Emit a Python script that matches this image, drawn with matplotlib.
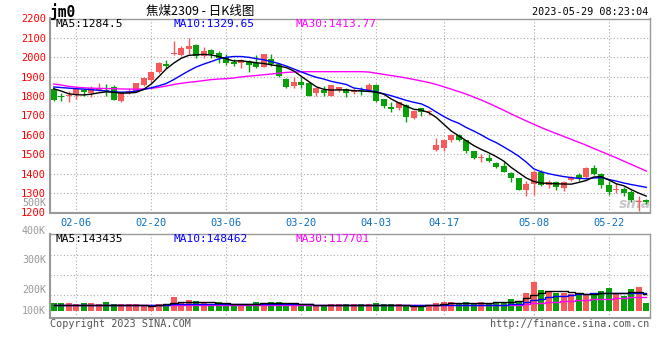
import matplotlib
matplotlib.use("Agg")
import matplotlib.pyplot as plt

plt.rcParams['font.family'] = ['DejaVu Sans Mono', 'Noto Sans CJK SC']

# 日K数据 (02-01 ~ 05-29 夜盘)
opens = [1836, 1801, 1800, 1807, 1834, 1814, 1831, 1834, 1848, 1776,
         1814, 1823, 1856, 1882, 1926, 1967, 2016, 2011, 2044, 2062,
         2006, 2037, 2020, 2003, 1977, 1970, 1981, 1972, 1952, 1992,
         1964, 1890, 1850, 1875, 1867, 1814, 1833, 1802, 1833, 1839,
         1823, 1831, 1831, 1858, 1785, 1746, 1737, 1756, 1686, 1737,
         1717, 1521, 1535, 1576, 1598, 1572, 1516, 1481, 1479, 1457,
         1440, 1406, 1377, 1317, 1348, 1411, 1343, 1355, 1326, 1365,
         1394, 1382, 1428, 1399, 1343, 1317, 1321, 1304, 1256, 1262]
highs = [1844, 1817, 1828, 1840, 1838, 1853, 1865, 1862, 1855, 1820,
         1841, 1868, 1899, 1930, 1975, 1984, 2083, 2060, 2100, 2071,
         2052, 2045, 2032, 2015, 1989, 1989, 1985, 2010, 2017, 2015,
         1967, 1893, 1896, 1896, 1870, 1842, 1853, 1858, 1848, 1842,
         1841, 1845, 1865, 1861, 1787, 1768, 1770, 1760, 1727, 1740,
         1727, 1586, 1575, 1606, 1606, 1575, 1518, 1504, 1499, 1462,
         1462, 1408, 1380, 1360, 1419, 1419, 1368, 1360, 1360, 1389,
         1402, 1433, 1445, 1402, 1360, 1351, 1334, 1317, 1285, 1270]
lows = [1773, 1777, 1768, 1785, 1799, 1794, 1827, 1802, 1779, 1771,
        1811, 1820, 1850, 1865, 1921, 1947, 2010, 2006, 2018, 1994,
        1998, 1998, 1972, 1958, 1957, 1947, 1925, 1947, 1950, 1955,
        1898, 1841, 1841, 1840, 1800, 1802, 1802, 1800, 1820, 1797,
        1810, 1806, 1829, 1768, 1737, 1717, 1726, 1669, 1683, 1695,
        1700, 1519, 1518, 1564, 1569, 1508, 1474, 1462, 1462, 1431,
        1407, 1355, 1314, 1283, 1292, 1338, 1326, 1317, 1309, 1360,
        1360, 1377, 1394, 1326, 1292, 1300, 1287, 1253, 1208, 1245]
closes = [1782, 1795, 1806, 1836, 1822, 1841, 1839, 1828, 1782, 1816,
          1827, 1865, 1895, 1926, 1972, 1953, 2019, 2049, 2060, 2006,
          2032, 2015, 1998, 1972, 1964, 1984, 1962, 1952, 2015, 1964,
          1904, 1848, 1873, 1858, 1802, 1840, 1814, 1856, 1845, 1816,
          1826, 1824, 1858, 1773, 1751, 1731, 1768, 1691, 1725, 1717,
          1725, 1547, 1572, 1598, 1576, 1518, 1482, 1484, 1465, 1436,
          1411, 1380, 1317, 1348, 1411, 1343, 1355, 1331, 1355, 1385,
          1377, 1428, 1399, 1343, 1304, 1320, 1300, 1266, 1259, 1252]

ma5 = [1838, 1826, 1812, 1807, 1806, 1810, 1817, 1822, 1820, 1815,
       1816, 1819, 1835, 1862, 1900, 1940, 1970, 1995, 2010, 2013,
       2015, 2012, 2004, 1992, 1981, 1982, 1977, 1972, 1968, 1961,
       1955, 1947, 1930, 1902, 1875, 1848, 1835, 1831, 1832, 1832,
       1828, 1826, 1824, 1820, 1810, 1785, 1765, 1748, 1732, 1728,
       1715, 1690, 1655, 1620, 1595, 1570, 1545, 1525, 1508, 1488,
       1465, 1432, 1405, 1378, 1360, 1352, 1350, 1348, 1347, 1346,
       1355, 1365, 1383, 1385, 1368, 1348, 1338, 1318, 1300, 1284.5]
ma10 = [1847, 1844, 1841, 1838, 1836, 1833, 1830, 1826, 1822, 1820,
        1821, 1826, 1834, 1843, 1853, 1865, 1885, 1908, 1930, 1950,
        1965, 1978, 1992, 2000, 2004, 2004, 2000, 1993, 1987, 1978,
        1968, 1955, 1940, 1925, 1910, 1897, 1888, 1876, 1868, 1860,
        1842, 1836, 1829, 1822, 1812, 1802, 1790, 1778, 1768, 1760,
        1742, 1718, 1695, 1675, 1660, 1638, 1620, 1600, 1578, 1560,
        1538, 1515, 1490, 1460, 1425, 1410, 1400, 1392, 1385, 1380,
        1376, 1374, 1378, 1380, 1370, 1362, 1352, 1344, 1337, 1329.65]
ma30 = [1862, 1857, 1850, 1846, 1843, 1841, 1840, 1839, 1838, 1837,
        1836, 1836, 1837, 1840, 1845, 1852, 1860, 1866, 1871, 1875,
        1880, 1885, 1888, 1890, 1893, 1899, 1903, 1906, 1910, 1914,
        1918, 1922, 1924, 1925, 1926, 1926, 1926, 1926, 1926, 1926,
        1926, 1926, 1924, 1918, 1912, 1906, 1900, 1893, 1886, 1878,
        1870, 1860, 1848, 1836, 1823, 1810, 1795, 1780, 1763, 1745,
        1727, 1708, 1690, 1672, 1655, 1638, 1622, 1607, 1592, 1577,
        1562, 1547, 1530, 1514, 1498, 1482, 1465, 1448, 1431, 1413.77]

# 成交量 (K)
volumes = [68, 68, 66, 55, 68, 68, 55, 76, 55, 55,
           55, 55, 49, 45, 57, 57, 117, 76, 90, 84,
           68, 57, 71, 57, 57, 57, 57, 71, 66, 74,
           74, 57, 57, 57, 49, 49, 49, 57, 57, 57,
           57, 57, 57, 68, 57, 57, 57, 49, 41, 41,
           41, 68, 76, 76, 60, 76, 68, 76, 68, 76,
           76, 96, 84, 150, 240, 172, 156, 150, 150, 137,
           137, 137, 137, 164, 191, 137, 123, 183, 197, 68]
vol_ma5 = [50, 50, 50, 50, 50, 50, 50, 50, 50, 50,
           50, 50, 50, 42, 48, 55, 62, 70, 72, 75,
           74, 72, 68, 64, 60, 58, 58, 60, 62, 64,
           66, 64, 62, 58, 55, 52, 50, 50, 50, 50,
           50, 50, 50, 50, 50, 50, 48, 46, 44, 44,
           46, 50, 56, 62, 65, 66, 66, 66, 68, 70,
           70, 75, 85, 105, 135, 150, 165, 168, 165, 155,
           148, 142, 140, 145, 150, 150, 148, 155, 158, 143.4]
vol_ma10 = [50, 50, 50, 50, 50, 50, 50, 50, 50, 50,
            50, 50, 50, 50, 50, 52, 54, 56, 58, 59,
            59, 59, 58, 58, 57, 56, 55, 55, 55, 55,
            55, 55, 55, 54, 54, 53, 53, 52, 52, 52,
            51, 51, 51, 51, 51, 50, 50, 50, 50, 50,
            50, 50, 50, 50, 50, 50, 50, 50, 50, 50,
            50, 54, 60, 72, 88, 100, 112, 120, 126, 131,
            136, 140, 144, 146, 148, 148, 148, 148, 149, 148.5]
vol_ma30 = [49, 49, 49, 49, 49, 49, 49, 49, 49, 49,
            49, 49, 49, 49, 49, 49, 49, 49, 49, 49,
            49, 49, 49, 49, 49, 49, 49, 49, 49, 49,
            49, 49, 49, 49, 49, 49, 49, 49, 49, 49,
            49, 49, 49, 49, 49, 49, 46, 46, 46, 46,
            46, 46, 46, 46, 46, 46, 46, 46, 46, 46,
            46, 46, 48, 56, 63, 66, 70, 75, 80, 85,
            88, 92, 95, 98, 102, 105, 108, 112, 117, 117.7]

date_pos = [3, 13, 23, 33, 43, 52, 64, 74]
date_labels = ["02-06", "02-20", "03-06", "03-20", "04-03", "04-17", "05-08", "05-22"]
price_ticks = [1200, 1300, 1400, 1500, 1600, 1700, 1800, 1900, 2000, 2100, 2200]
vol_labels = ["500K", "400K", "300K", "200K", "100K"]

RED = '#f65a5a'
GREEN = '#08a008'
GRID = '#aaaaaa'
SPINE = '#999999'
W, H = 660, 360


def box(l, t, r, b):
    return [l / W, 1 - b / H, (r - l) / W, (b - t) / H]


def ftext(x, y, s, **kw):
    fig.text(x / W, 1 - y / H, s, va='center', **kw)


fig = plt.figure(figsize=(6.6, 3.6), dpi=100)
ax = fig.add_axes(box(50, 18.5, 650, 212.5))
axv = fig.add_axes(box(50, 234, 650, 318))

x = list(range(len(closes)))
colors = [RED if c >= o else GREEN for o, c in zip(opens, closes)]

# K线
ax.vlines(x, lows, highs, colors=colors, linewidth=1, zorder=3)
bottoms = [min(o, c) for o, c in zip(opens, closes)]
heights = [max(abs(c - o), 4) for o, c in zip(opens, closes)]
ax.bar(x, heights, bottom=bottoms, width=0.75, color=colors, linewidth=0, zorder=4)

ax.plot(x, ma30, color='#ff00ff', lw=1, zorder=5)
ax.plot(x, ma10, color='#0000ff', lw=1, zorder=5)
ax.plot(x, ma5, color='black', lw=1, zorder=5)

ax.set_xlim(-0.5, len(closes) - 0.5)
ax.set_ylim(1200, 2200)
ax.set_yticks(price_ticks)
ax.set_yticklabels([str(t) for t in price_ticks])
ax.set_xticks(date_pos)
ax.set_xticklabels(date_labels)
ax.tick_params(axis='y', length=0, pad=3, labelcolor='#ff0000', labelsize=7.5)
ax.tick_params(axis='x', length=0, pad=4, labelcolor='#0a6fc2', labelsize=7.5)
ax.grid(True, linestyle=(0, (1, 2)), color=GRID, linewidth=0.8, zorder=0)
ax.set_axisbelow(True)
for s in ax.spines.values():
    s.set_color(SPINE)
    s.set_linewidth(1)
ax.spines['left'].set_linewidth(1.5)
ax.spines['bottom'].set_linewidth(1.5)

ax.text(77.5, 1245, 'sina', color='#c8c8c8', fontsize=10, fontweight='bold',
        style='italic', ha='center', va='center', family='DejaVu Sans', zorder=1)

# 成交量
VOL_PER_PX = 8.2
axv.bar(x, volumes, width=0.8, color=colors, linewidth=0, zorder=3)
axv.step(x, vol_ma30, where='mid', color='#ff00ff', lw=1, zorder=5)
axv.step(x, vol_ma10, where='mid', color='#0000ff', lw=1, zorder=5)
axv.step(x, vol_ma5, where='mid', color='black', lw=1, zorder=5)
axv.set_xlim(-0.5, len(closes) - 0.5)
axv.set_ylim(-7 * VOL_PER_PX, 77 * VOL_PER_PX)
axv.set_xticks(date_pos)
axv.set_yticks([16 * VOL_PER_PX, 36 * VOL_PER_PX, 56 * VOL_PER_PX])
axv.tick_params(length=0, labelbottom=False, labelleft=False)
axv.grid(True, linestyle=(0, (1, 2)), color=GRID, linewidth=0.8, zorder=0)
axv.set_axisbelow(True)
for s in axv.spines.values():
    s.set_color(SPINE)
    s.set_linewidth(1)
axv.spines['left'].set_linewidth(1.5)
axv.spines['bottom'].set_linewidth(1.5)

for lab, yy in zip(vol_labels, [203, 231, 260, 290, 311]):
    ftext(46, yy, lab, ha='right', color='#999999', fontsize=7.2)

# 标题和图例
ftext(50, 11.5, 'jm0', ha='left', color='black', fontsize=10.5, fontweight='bold')
ftext(200, 11.5, '焦煤2309 - 日K线图', ha='center', color='black', fontsize=9,
      family=['Noto Sans CJK SC', 'DejaVu Sans'])
ftext(648, 12, '2023-05-29 08:23:04', ha='right', color='black', fontsize=7.3)

ftext(55, 24, 'MA5:1284.5', ha='left', color='black', fontsize=8)
ftext(174, 24, 'MA10:1329.65', ha='left', color='#0000ff', fontsize=8)
ftext(295, 24, 'MA30:1413.77', ha='left', color='#ff00ff', fontsize=8)

ftext(55, 239, 'MA5:143435', ha='left', color='black', fontsize=8)
ftext(174, 239, 'MA10:148462', ha='left', color='#0000ff', fontsize=8)
ftext(295, 239, 'MA30:117701', ha='left', color='#ff00ff', fontsize=8)

ftext(50, 324, 'Copyright 2023 SINA.COM', ha='left', color='#555555', fontsize=7.3)
ftext(649, 324, 'http://finance.sina.com.cn', ha='right', color='#555555', fontsize=7.3)

fig.savefig('out.png', dpi=100)
